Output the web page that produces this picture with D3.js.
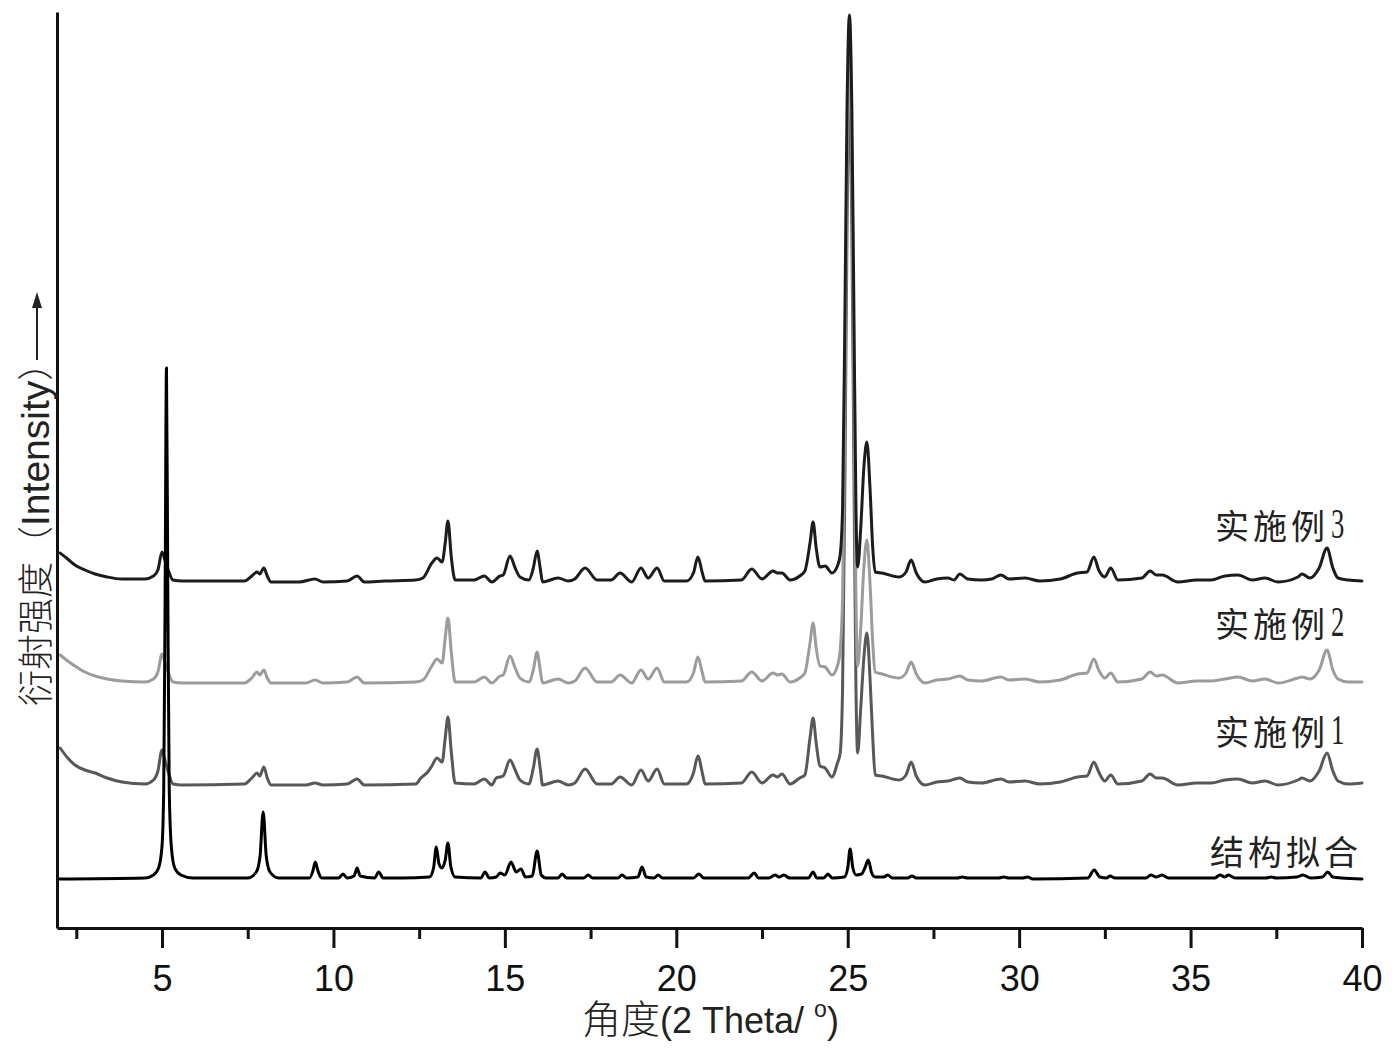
<!DOCTYPE html>
<html><head><meta charset="utf-8">
<script src="https://cdn.jsdelivr.net/npm/d3@7"></script>
<style>body{margin:0;background:#fff}</style>
</head><body>
<svg id="c" width="1396" height="1058"></svg>
<script>
// ---- data (2θ in degrees, intensity in arbitrary units, stacked offsets included) ----
const seriesNames = ["实施例1", "实施例2", "实施例3", "结构拟合"];
const majorTicks = [5, 10, 15, 20, 25, 30, 35, 40];
const minorTicks = [2.5, 7.5, 12.5, 17.5, 22.5, 27.5, 32.5, 37.5];
const xTitle = "角度(2 Theta/ ";
const yTitle = "衍射强度（Intensity）";

const fitData = [
[1.95,49],[4.5,50],[4.75,53],[4.9,60],[5.0,82],[5.05,140],[5.09,330],[5.13,560],[5.17,330],[5.21,140],[5.27,82],[5.37,60],[5.55,53],[5.9,50],
[7.5,50],[7.75,56],[7.86,72],[7.95,116],[8.04,72],[8.15,56],[8.4,50],
[9.3,50],[9.4,57],[9.47,66],[9.55,57],[9.65,50],
[10.15,50],[10.28,54],[10.4,50],[10.6,52],[10.69,60],[10.78,52],[11.2,50],[11.32,56],[11.45,50],
[12.0,50],[12.8,51],[12.92,60],[13.0,81],[13.08,64],[13.17,60],[13.26,68],[13.34,85],[13.42,62],[13.55,51],
[14.3,50],[14.42,56],[14.55,50],[14.75,51],[14.86,55],[15.0,53],[15.18,66],[15.33,56],[15.47,59],[15.6,51],[15.8,52],[15.94,77],[16.06,53],[16.2,50],
[16.55,50],[16.67,54],[16.8,50],[17.3,50],[17.43,53],[17.56,50],[18.3,50],[18.42,53],[18.55,50],[18.88,51],[19.0,61],[19.12,51],[19.35,50],[19.47,53],[19.6,50],
[20.5,50],[20.66,54],[20.8,50],[22.1,50],[22.27,55],[22.4,50],[22.7,50],[22.88,53],[23.0,51],[23.14,53],[23.3,50],
[23.85,50],[23.99,56],[24.1,50],[24.3,50],[24.42,54],[24.55,50],[24.9,51],[25.0,60],[25.07,79],[25.15,60],[25.25,53],[25.4,54],[25.5,60],[25.6,68],[25.7,55],[25.8,51],
[26.05,51],[26.17,53],[26.3,50],[26.75,50],[26.87,52],[27.0,50],[28.2,50],[28.33,51],[28.5,50],[29.4,50],[29.55,51],[29.7,50],[30.1,50],[30.25,51],[30.4,49],
[32.0,50],[32.19,58],[32.35,51],[32.55,50],[32.65,52],[32.8,50],[33.7,50],[33.84,53],[34.0,51],[34.17,53],[34.35,50],
[35.7,50],[35.86,53],[36.0,51],[36.1,53],[36.3,50],[37.2,50],[37.35,51],[37.5,50],[38.1,51],[38.28,53],[38.5,50],[38.85,51],[39.0,56],[39.15,51],[39.4,50],[40,49]
];

const ex3Data = [
[2.03,375],[2.25,369],[2.46,363],[2.75,358],[3.05,354],[3.4,351],[3.83,349],[4.5,349],[4.75,352],[4.88,358],[5.0,376],[5.1,366],[5.2,356],[5.32,348],[5.6,347],[6.5,347],
[7.4,347],[7.62,352],[7.77,356],[7.85,354],[7.97,360],[8.07,352],[8.18,346],[9.0,346],[9.46,349],[9.7,346],[10.4,347],[10.69,352],[10.9,346],[11.5,347],
[12.4,348],[12.61,350],[12.87,365],[13.02,370],[13.17,366],[13.26,385],[13.34,407],[13.44,370],[13.55,348],[14.1,348],[14.4,352],[14.62,346],[14.86,352],[14.95,353],
[15.15,372],[15.3,360],[15.44,351],[15.7,348],[15.83,360],[15.94,377],[16.03,360],[16.1,346],[16.55,350],[16.85,347],[17.04,349],[17.34,360],[17.69,348],
[18.1,348],[18.36,355],[18.7,346],[18.97,360],[19.18,350],[19.44,360],[19.65,347],[20.3,347],[20.5,355],[20.63,371],[20.76,355],[20.84,347],
[21.9,348],[22.2,359],[22.5,349],[22.82,357],[22.95,355],[23.08,355],[23.32,348],[23.6,352],[23.75,357],[23.9,385],[23.99,406],[24.08,380],[24.19,361],[24.34,362],[24.54,355],[24.7,362],[24.78,373],
[24.85,420],[24.92,620],[24.98,820],[25.05,913],[25.12,820],[25.18,620],[25.24,420],[25.29,361],[25.38,400],[25.47,460],[25.56,486],[25.65,440],[25.73,380],[25.8,356],
[26.0,355],[26.5,351],[26.7,356],[26.85,368],[27.0,355],[27.25,346],[27.6,349],[27.92,350],[28.1,348],[28.27,354],[28.5,349],[28.9,348],[29.2,349],[29.47,353],[29.7,349],[30.17,350],[30.6,347],
[31.2,349],[31.7,355],[31.98,356],[32.18,371],[32.32,358],[32.5,351],[32.67,360],[32.88,348],[33.58,350],[33.82,357],[34.0,353],[34.17,353],[34.63,346],
[35.18,348],[35.6,348],[36.0,352],[36.38,353],[36.8,348],[37.17,350],[37.55,346],[38.13,351],[38.25,354],[38.48,350],[38.75,360],[38.98,380],[39.15,360],[39.3,350],[39.6,348],[40.0,347]
];

const ex2Data = [
[2.03,273],[2.25,267],[2.46,262],[2.75,256],[3.05,252],[3.4,249],[3.83,247],[4.5,246],[4.75,249],[4.88,256],[5.0,274],[5.1,264],[5.2,254],[5.32,246],[5.6,245],
[7.4,245],[7.62,250],[7.77,256],[7.85,253],[7.97,258],[8.07,250],[8.18,245],[9.2,245],[9.46,248],[9.7,245],[10.4,246],[10.69,251],[10.9,245],
[12.4,246],[12.61,248],[12.87,262],[13.02,269],[13.17,265],[13.26,290],[13.34,310],[13.44,275],[13.55,246],[14.1,246],[14.4,251],[14.62,245],[14.86,252],[14.95,253],
[15.15,272],[15.3,260],[15.44,250],[15.7,246],[15.83,258],[15.94,276],[16.03,258],[16.1,245],[16.55,249],[16.85,245],[17.04,247],[17.34,260],[17.69,246],
[18.1,246],[18.36,253],[18.7,245],[18.97,258],[19.18,249],[19.44,260],[19.65,246],[20.3,246],[20.5,255],[20.63,271],[20.76,255],[20.84,246],
[21.9,247],[22.2,256],[22.5,247],[22.82,255],[22.95,253],[23.08,254],[23.32,246],[23.6,250],[23.75,255],[23.9,285],[23.99,305],[24.08,280],[24.19,262],[24.34,261],[24.54,253],[24.7,262],[24.78,278],
[24.85,330],[24.92,540],[24.98,760],[25.05,870],[25.12,760],[25.18,540],[25.24,330],[25.29,262],[25.38,300],[25.47,360],[25.56,388],[25.65,345],[25.73,285],[25.8,256],
[26.0,254],[26.5,250],[26.7,255],[26.85,266],[27.0,254],[27.25,245],[27.6,248],[27.92,249],[28.27,252],[28.5,248],[28.9,247],[29.47,251],[29.7,248],[30.17,249],[30.6,246],
[31.2,248],[31.7,254],[31.98,255],[32.18,269],[32.32,258],[32.5,250],[32.67,255],[32.88,246],[33.58,249],[33.82,256],[34.0,252],[34.17,253],[34.63,245],
[35.18,247],[35.6,247],[36.0,249],[36.38,251],[36.8,247],[37.17,249],[37.55,245],[38.13,250],[38.25,251],[38.48,249],[38.75,258],[38.98,278],[39.15,258],[39.3,249],[39.6,246],[40.0,246]
];

const ex1Data = [
[2.03,180],[2.25,170],[2.46,163],[2.75,158],[3.05,155],[3.4,150],[3.83,146],[4.5,144],[4.75,148],[4.88,157],[5.0,178],[5.1,166],[5.2,154],[5.32,144],[5.6,143],
[7.4,144],[7.62,150],[7.77,155],[7.85,152],[7.97,161],[8.07,150],[8.18,143],[9.2,143],[9.46,145],[9.7,143],[10.4,144],[10.69,149],[10.9,143],
[12.4,144],[12.55,150],[12.75,156],[12.87,162],[13.02,170],[13.17,166],[13.26,190],[13.34,211],[13.44,175],[13.55,145],[14.1,144],[14.4,149],[14.62,143],[14.75,150],[14.86,151],[14.95,152],
[15.15,168],[15.3,158],[15.44,148],[15.7,144],[15.83,160],[15.94,179],[16.03,160],[16.1,143],[16.55,147],[16.85,143],[17.04,145],[17.34,159],[17.69,144],
[18.1,144],[18.36,151],[18.7,143],[18.97,158],[19.18,147],[19.44,159],[19.65,144],[20.3,144],[20.5,155],[20.63,172],[20.76,155],[20.84,144],
[21.9,145],[22.2,156],[22.5,145],[22.82,153],[22.95,151],[23.08,154],[23.32,144],[23.6,150],[23.75,153],[23.9,190],[23.99,210],[24.08,185],[24.19,162],[24.34,160],[24.54,151],[24.7,165],[24.78,175],
[24.85,240],[24.92,460],[24.98,700],[25.05,820],[25.12,700],[25.18,460],[25.24,240],[25.29,175],[25.38,220],[25.47,270],[25.56,295],[25.65,250],[25.73,190],[25.8,153],
[26.0,152],[26.5,148],[26.7,153],[26.85,166],[27.0,152],[27.25,143],[27.6,146],[27.92,147],[28.27,150],[28.5,146],[28.9,145],[29.47,149],[29.7,146],[30.17,147],[30.6,144],
[31.2,146],[31.7,151],[31.98,152],[32.18,166],[32.32,156],[32.5,147],[32.67,153],[32.88,144],[33.58,147],[33.82,154],[34.0,150],[34.17,150],[34.63,143],
[35.18,145],[35.6,145],[36.0,148],[36.38,149],[36.8,145],[37.17,147],[37.55,143],[38.13,148],[38.25,150],[38.48,147],[38.75,157],[38.98,175],[39.15,157],[39.3,147],[39.6,144],[40.0,145]
];

// ---- drawing ----
const svg = d3.select("#c");
const x = d3.scaleLinear().domain([1.937, 40]).range([57, 1362]);
const y = d3.scaleLinear().domain([0, 916]).range([928, 12]);

const line = d3.line().x(d => x(d[0])).y(d => y(d[1])).curve(d3.curveMonotoneX);

const series = [
  {name: seriesNames[0], data: ex1Data, color: "#585858", labelX: 1215, labelY: 745},
  {name: seriesNames[1], data: ex2Data, color: "#9c9c9c", labelX: 1215, labelY: 637},
  {name: seriesNames[2], data: ex3Data, color: "#1c1c1c", labelX: 1215, labelY: 539},
  {name: seriesNames[3], data: fitData, color: "#000000", labelX: 1210, labelY: 865}
];
// draw order: 1, 2, 3, fit
series.forEach(s => {
  svg.append("path").datum(s.data)
    .attr("d", line).attr("fill", "none")
    .attr("stroke", s.color).attr("stroke-width", 3)
    .attr("stroke-linejoin", "round").attr("stroke-linecap", "round");
});

// labels: CJK part + narrow serif digit
series.forEach(s => {
  const m = s.name.match(/^(\D+)(\d*)$/);
  const t = svg.append("text")
    .attr("x", s.labelX).attr("y", s.labelY)
    .attr("font-family", "'Noto Sans CJK SC',sans-serif")
    .attr("font-size", 34).attr("letter-spacing", 4)
    .attr("fill", "#222").text(m[1]);
  if (m[2]) {
    const w = t.node().getComputedTextLength();
    svg.append("text")
      .attr("transform", `translate(${s.labelX + w + 2},${s.labelY - 1}) scale(0.62,1)`)
      .attr("font-family", "'Liberation Serif',serif")
      .attr("font-size", 43).attr("fill", "#222").text(m[2]);
  }
});

// x axis
const axisMajor = d3.axisBottom(x).tickValues(majorTicks).tickSize(20).tickSizeOuter(0).tickPadding(17).tickFormat(d3.format("d"));
const gx = svg.append("g").attr("transform", "translate(0,928)").call(axisMajor);
gx.select(".domain").attr("stroke", "#111").attr("stroke-width", 3);
gx.selectAll(".tick line").attr("stroke", "#111").attr("stroke-width", 3);
gx.selectAll(".tick text").attr("font-family", "'Liberation Sans',Arial,sans-serif").attr("font-size", 36).attr("fill", "#111");

const axisMinor = d3.axisBottom(x).tickValues(minorTicks).tickSize(11).tickSizeOuter(0).tickFormat("");
const gm = svg.append("g").attr("transform", "translate(0,928)").call(axisMinor);
gm.select(".domain").remove();
gm.selectAll(".tick line").attr("stroke", "#111").attr("stroke-width", 3);

// y axis (line only)
const gy = svg.append("g").attr("transform", "translate(57,0)")
  .call(d3.axisLeft(y).tickValues([]).tickSizeOuter(0));
gy.select(".domain").attr("stroke", "#111").attr("stroke-width", 3);

// x title
const xt = svg.append("text").attr("x", 582).attr("y", 1033)
  .attr("font-family", "'Liberation Sans','Noto Sans CJK SC',sans-serif")
  .attr("font-size", 36).attr("fill", "#222");
xt.append("tspan").attr("font-family", "'Noto Sans CJK SC',sans-serif").attr("font-size", 39).attr("font-weight", 300).text(xTitle.slice(0, 2));
xt.append("tspan").text(xTitle.slice(2));
xt.append("tspan").attr("font-size", 23).attr("dy", -16).text("o");
xt.append("tspan").attr("dy", 16).text(")");

// y title
const yt = svg.append("text")
  .attr("transform", "translate(49,706) rotate(-90)")
  .attr("font-family", "'Liberation Sans','Noto Sans CJK SC',sans-serif")
  .attr("font-size", 36).attr("fill", "#222");
yt.append("tspan").attr("font-family", "'Noto Sans CJK SC',sans-serif").attr("font-weight", 300).text(yTitle.slice(0, 5));
yt.append("tspan").attr("font-size", 39).text(yTitle.slice(5, 14));
yt.append("tspan").attr("font-family", "'Noto Sans CJK SC',sans-serif").attr("font-weight", 300).text(yTitle.slice(14));

// arrow
svg.append("line").attr("x1", 37).attr("x2", 37).attr("y1", 360).attr("y2", 305)
  .attr("stroke", "#222").attr("stroke-width", 2);
svg.append("path").attr("d", "M37,292 L32,308 L42,308 Z").attr("fill", "#222");
</script>
</body></html>
